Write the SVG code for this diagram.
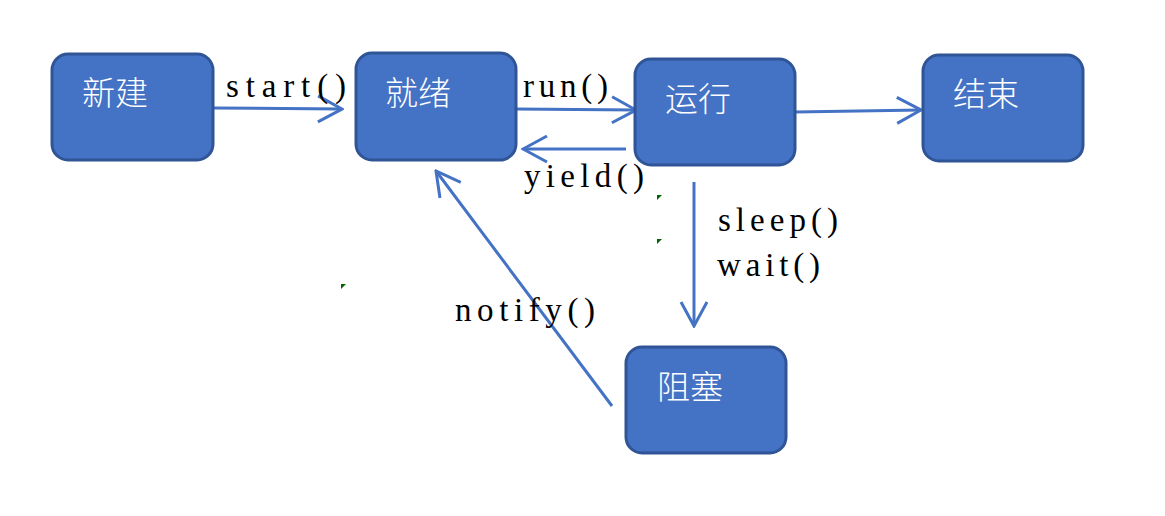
<svg xmlns="http://www.w3.org/2000/svg" width="1165" height="516" viewBox="0 0 1165 516">
<defs>
<style>
.node rect{fill:#4472C4;stroke:#2F5597;stroke-width:3}
.node text{fill:#ffffff;font-family:"Noto Sans CJK SC","Noto Sans",sans-serif;font-size:33px;font-weight:300}
.conn line{stroke:#4472C4;stroke-width:3;fill:none}
.lbl{fill:#000000;font-family:"Liberation Serif","Noto Sans CJK SC",serif;font-size:33px}
.mark{fill:#006400}
</style>
<marker id="arr2" viewBox="0 0 32 32" refX="30" refY="16" markerWidth="32" markerHeight="32" markerUnits="userSpaceOnUse" orient="auto">
<path d="M6,3 L30,16 L6,29" fill="none" stroke="#4472C4" stroke-width="3"/>
</marker>
</defs>
<rect width="1165" height="516" fill="#ffffff"/>
<g id="connectors" class="conn">
<line x1="213" y1="108" x2="342" y2="109" marker-end="url(#arr2)"/>
<line x1="516" y1="109" x2="636" y2="110" marker-end="url(#arr2)"/>
<line x1="795" y1="112" x2="921" y2="110" marker-end="url(#arr2)"/>
<line x1="626" y1="149" x2="523" y2="149" marker-end="url(#arr2)"/>
<line x1="694" y1="182" x2="694" y2="326" marker-end="url(#arr2)"/>
<line x1="612" y1="406" x2="436" y2="171" marker-end="url(#arr2)"/>
</g>
<g id="labels">
<text class="lbl" x="226" y="97" textLength="120" lengthAdjust="spacing">start()</text>
<text class="lbl" x="523" y="97" textLength="85" lengthAdjust="spacing">run()</text>
<text class="lbl" x="524" y="187" textLength="120" lengthAdjust="spacing">yield()</text>
<text class="lbl" x="718" y="231" textLength="120" lengthAdjust="spacing">sleep()</text>
<text class="lbl" x="717" y="276" textLength="103" lengthAdjust="spacing">wait()</text>
<text class="lbl" x="455" y="321" textLength="140" lengthAdjust="spacing">notify()</text>
</g>
<g id="node-new" class="node">
<rect x="52" y="54" width="161" height="106" rx="16"/>
<text x="82" y="105">新建</text>
</g>
<g id="node-ready" class="node">
<rect x="356" y="53" width="160" height="107" rx="16"/>
<text x="385" y="105">就绪</text>
</g>
<g id="node-running" class="node">
<rect x="635" y="59" width="160" height="106" rx="16"/>
<text x="665" y="111">运行</text>
</g>
<g id="node-end" class="node">
<rect x="923" y="55" width="160" height="106" rx="16"/>
<text x="953" y="106">结束</text>
</g>
<g id="node-blocked" class="node">
<rect x="626" y="347" width="160" height="106" rx="16"/>
<text x="657" y="399">阻塞</text>
</g>
<g id="marks">
<polygon class="mark" points="657,195 662,195 657,200"/>
<polygon class="mark" points="657,239 662,239 657,244"/>
<polygon class="mark" points="341,284 346,284 341,289"/>
</g>
</svg>
